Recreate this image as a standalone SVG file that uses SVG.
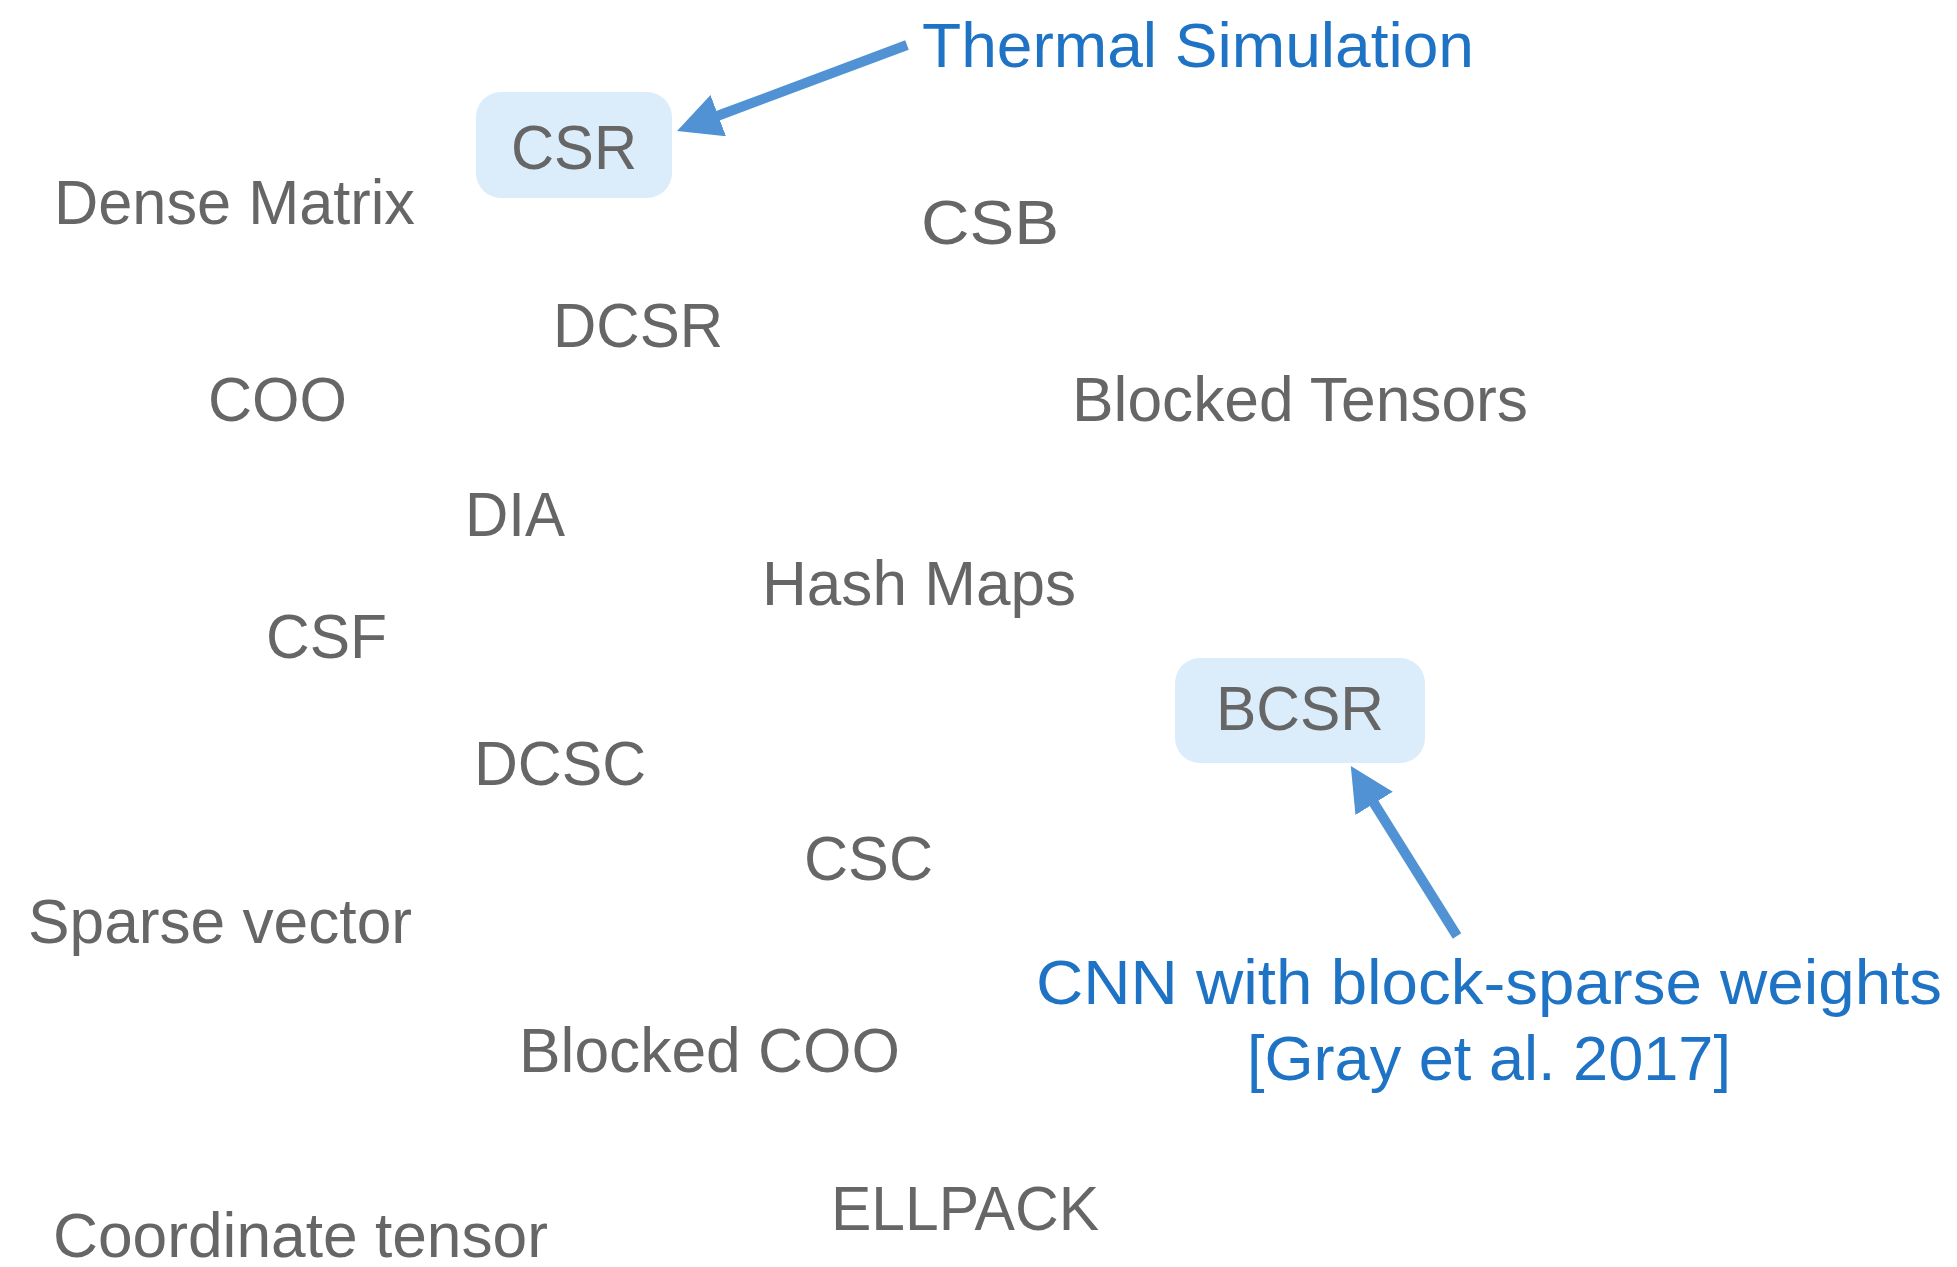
<svg xmlns="http://www.w3.org/2000/svg" width="1957" height="1267" viewBox="0 0 1957 1267">
<style>
.t{font-family:"Liberation Sans",Arial,sans-serif;font-size:63px;fill:#666666;}
.b{font-family:"Liberation Sans",Arial,sans-serif;font-size:63px;fill:#1f73c4;}
.box{fill:#dbecfb;}
.arr{stroke:#5092d3;stroke-width:10;fill:none;}
</style>
<defs>
<marker id="ah" viewBox="0 0 44 44" markerWidth="44" markerHeight="44" refX="4" refY="22" orient="auto" markerUnits="userSpaceOnUse">
<path d="M0,0 L44,22 L0,44 z" fill="#5092d3"/>
</marker>
</defs>
<rect width="1957" height="1267" fill="#ffffff"/>
<g id="csr"><rect class="box" x="476" y="92" width="196" height="106" rx="25"/><text class="t" x="574" y="169" text-anchor="middle" textLength="126" lengthAdjust="spacingAndGlyphs">CSR</text></g>
<g id="bcsr"><rect class="box" x="1175" y="658" width="250" height="105" rx="25"/><text class="t" x="1300" y="730" text-anchor="middle" textLength="168" lengthAdjust="spacingAndGlyphs">BCSR</text></g>
<g id="dense"><text class="t" x="54" y="224" textLength="361" lengthAdjust="spacingAndGlyphs">Dense Matrix</text></g>
<g id="csb"><text class="t" x="921" y="244" textLength="138" lengthAdjust="spacingAndGlyphs">CSB</text></g>
<g id="dcsr"><text class="t" x="553" y="347" textLength="170" lengthAdjust="spacingAndGlyphs">DCSR</text></g>
<g id="coo"><text class="t" x="208" y="421" textLength="139" lengthAdjust="spacingAndGlyphs">COO</text></g>
<g id="blockedtensors"><text class="t" x="1072" y="421" textLength="456" lengthAdjust="spacingAndGlyphs">Blocked Tensors</text></g>
<g id="dia"><text class="t" x="465" y="536" textLength="100" lengthAdjust="spacingAndGlyphs">DIA</text></g>
<g id="hashmaps"><text class="t" x="762" y="605" textLength="314" lengthAdjust="spacingAndGlyphs">Hash Maps</text></g>
<g id="csf"><text class="t" x="266" y="658" textLength="121" lengthAdjust="spacingAndGlyphs">CSF</text></g>
<g id="dcsc"><text class="t" x="474" y="785" textLength="172" lengthAdjust="spacingAndGlyphs">DCSC</text></g>
<g id="csc"><text class="t" x="804" y="880" textLength="129" lengthAdjust="spacingAndGlyphs">CSC</text></g>
<g id="sparsevector"><text class="t" x="28" y="943" textLength="384" lengthAdjust="spacingAndGlyphs">Sparse vector</text></g>
<g id="blockedcoo"><text class="t" x="519" y="1072" textLength="381" lengthAdjust="spacingAndGlyphs">Blocked COO</text></g>
<g id="ellpack"><text class="t" x="831" y="1230" textLength="268" lengthAdjust="spacingAndGlyphs">ELLPACK</text></g>
<g id="coordtensor"><text class="t" x="53" y="1257" textLength="495" lengthAdjust="spacingAndGlyphs">Coordinate tensor</text></g>
<g id="thermal"><text class="b" x="922" y="67" textLength="552" lengthAdjust="spacingAndGlyphs">Thermal Simulation</text></g>
<g id="cnn"><text class="b" x="1489" y="1004" text-anchor="middle" textLength="906" lengthAdjust="spacingAndGlyphs">CNN with block-sparse weights</text><text class="b" x="1489" y="1080" text-anchor="middle" textLength="484" lengthAdjust="spacingAndGlyphs">[Gray et al. 2017]</text></g>
<g id="connectors">
<path class="arr" d="M907,45 L714.5,117" marker-end="url(#ah)"/>
<path class="arr" d="M1457,936 L1372,800" marker-end="url(#ah)"/>
</g>
</svg>
